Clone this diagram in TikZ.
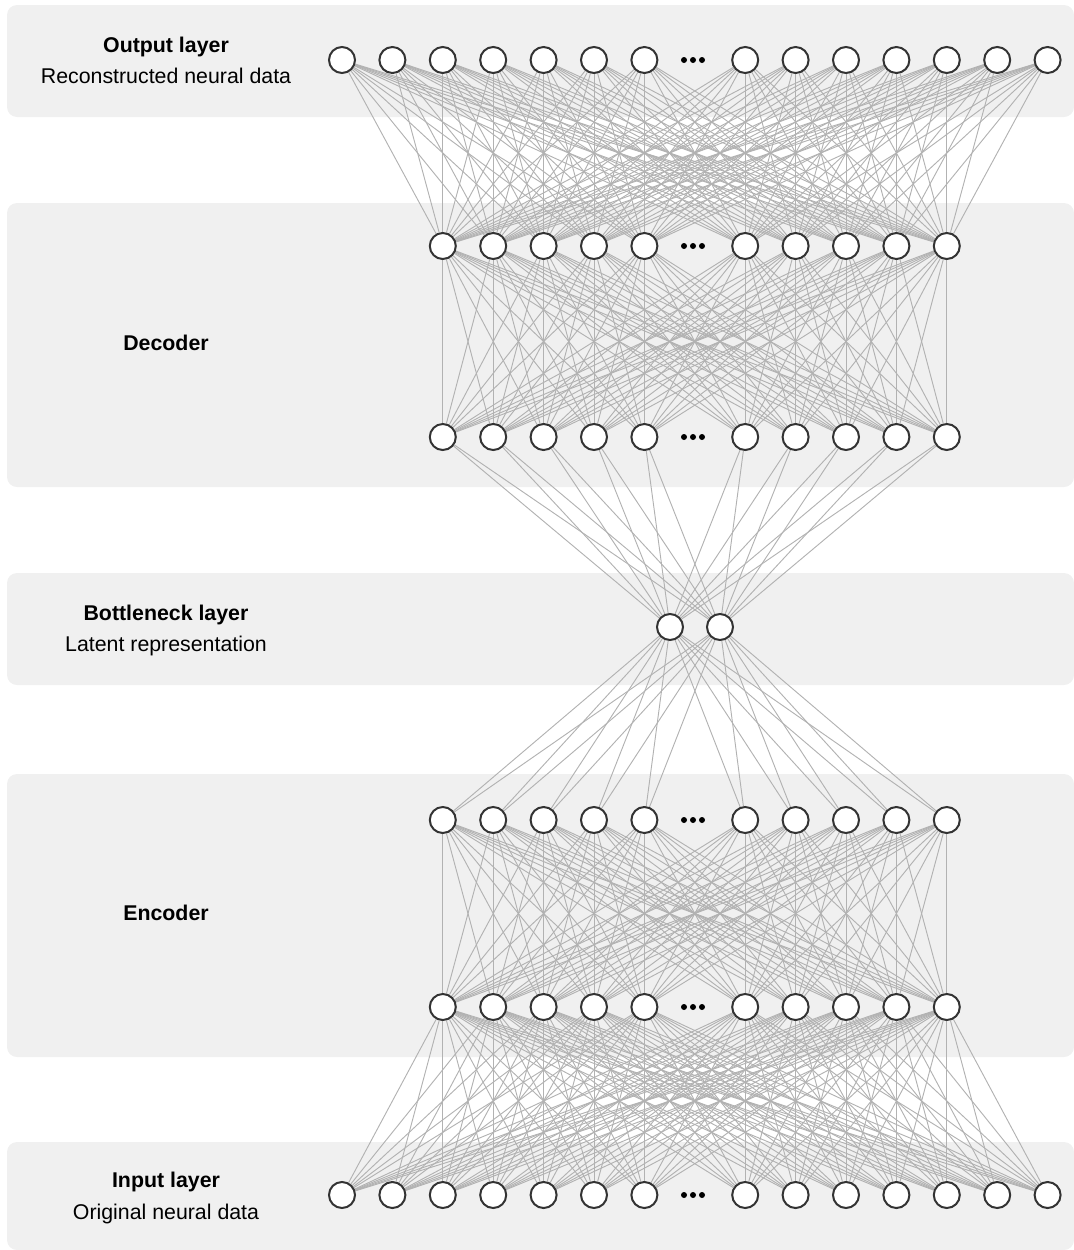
\documentclass[tikz,border=0pt]{standalone}
\usepackage{fontspec}
\setmainfont{Liberation Sans}

\pgfdeclarelayer{panels}
\pgfdeclarelayer{wires}
\pgfsetlayers{panels,wires,main}

\begin{document}
\begin{tikzpicture}[
    x=0.75pt, y=-0.75pt,
    panel/.style={fill=black!6, rounded corners=7.5pt},
    neuron/.style={circle, draw=black!80, fill=white, line width=1.5pt, minimum size=19.5pt, inner sep=0pt},
    wire/.style={draw=black!30, line width=0.7pt},
    dot/.style={fill=black},
    title/.style={anchor=base, font=\fontsize{16}{19}\selectfont\bfseries},
    subtitle/.style={anchor=base, font=\fontsize{16}{19}\selectfont}
]
\useasboundingbox (0,0) rectangle (1074,1250);

% Background panels
\begin{pgfonlayer}{panels}
\fill[panel] (7,5) rectangle (1074,117);
\fill[panel] (7,203) rectangle (1074,487);
\fill[panel] (7,573) rectangle (1074,685);
\fill[panel] (7,774) rectangle (1074,1057);
\fill[panel] (7,1142) rectangle (1074,1250);
\end{pgfonlayer}

% Labels
\node[title] (outT) at (166,52.5) {Output layer};
\node[subtitle] (outS) at (166,83) {Reconstructed neural data};
\node[title] (decT) at (166,350.5) {Decoder};
\node[title] (botT) at (166,620) {Bottleneck layer};
\node[subtitle] (botS) at (166,651.5) {Latent representation};
\node[title] (encT) at (166,920.5) {Encoder};
\node[title] (inT) at (166,1187) {Input layer};
\node[subtitle] (inS) at (166,1219) {Original neural data};

% Neurons: wide layers
\foreach \i in {0,...,6,8,9,...,14} {
    \node[neuron] (out\i) at (342+50.4*\i,60) {};
    \node[neuron] (in\i) at (342+50.4*\i,1195) {};
}
% Neurons: hidden layers
\foreach \i in {2,...,6,8,9,...,12} {
    \node[neuron] (decA\i) at (342+50.4*\i,246) {};
    \node[neuron] (decB\i) at (342+50.4*\i,437) {};
    \node[neuron] (encA\i) at (342+50.4*\i,820) {};
    \node[neuron] (encB\i) at (342+50.4*\i,1007) {};
}
% Bottleneck
\node[neuron] (bot1) at (670,627) {};
\node[neuron] (bot2) at (720,627) {};

% Ellipsis dots
\foreach \y in {60,246,437,820,1007,1195}
    \foreach \dx in {-9,0,9}
        \fill[dot] (693+\dx,\y) circle (3);

% Connections
\begin{pgfonlayer}{wires}
\foreach \i in {0,...,6,8,9,...,14}
    \foreach \j in {2,...,6,8,9,...,12} {
        \draw[wire] (out\i) -- (decA\j);
        \draw[wire] (in\i) -- (encB\j);
    }
\foreach \i in {2,...,6,8,9,...,12}
    \foreach \j in {2,...,6,8,9,...,12} {
        \draw[wire] (decA\i) -- (decB\j);
        \draw[wire] (encA\i) -- (encB\j);
    }
\foreach \i in {2,...,6,8,9,...,12}
    \foreach \b in {1,2} {
        \draw[wire] (decB\i) -- (bot\b);
        \draw[wire] (bot\b) -- (encA\i);
    }
\end{pgfonlayer}

\end{tikzpicture}
\end{document}
